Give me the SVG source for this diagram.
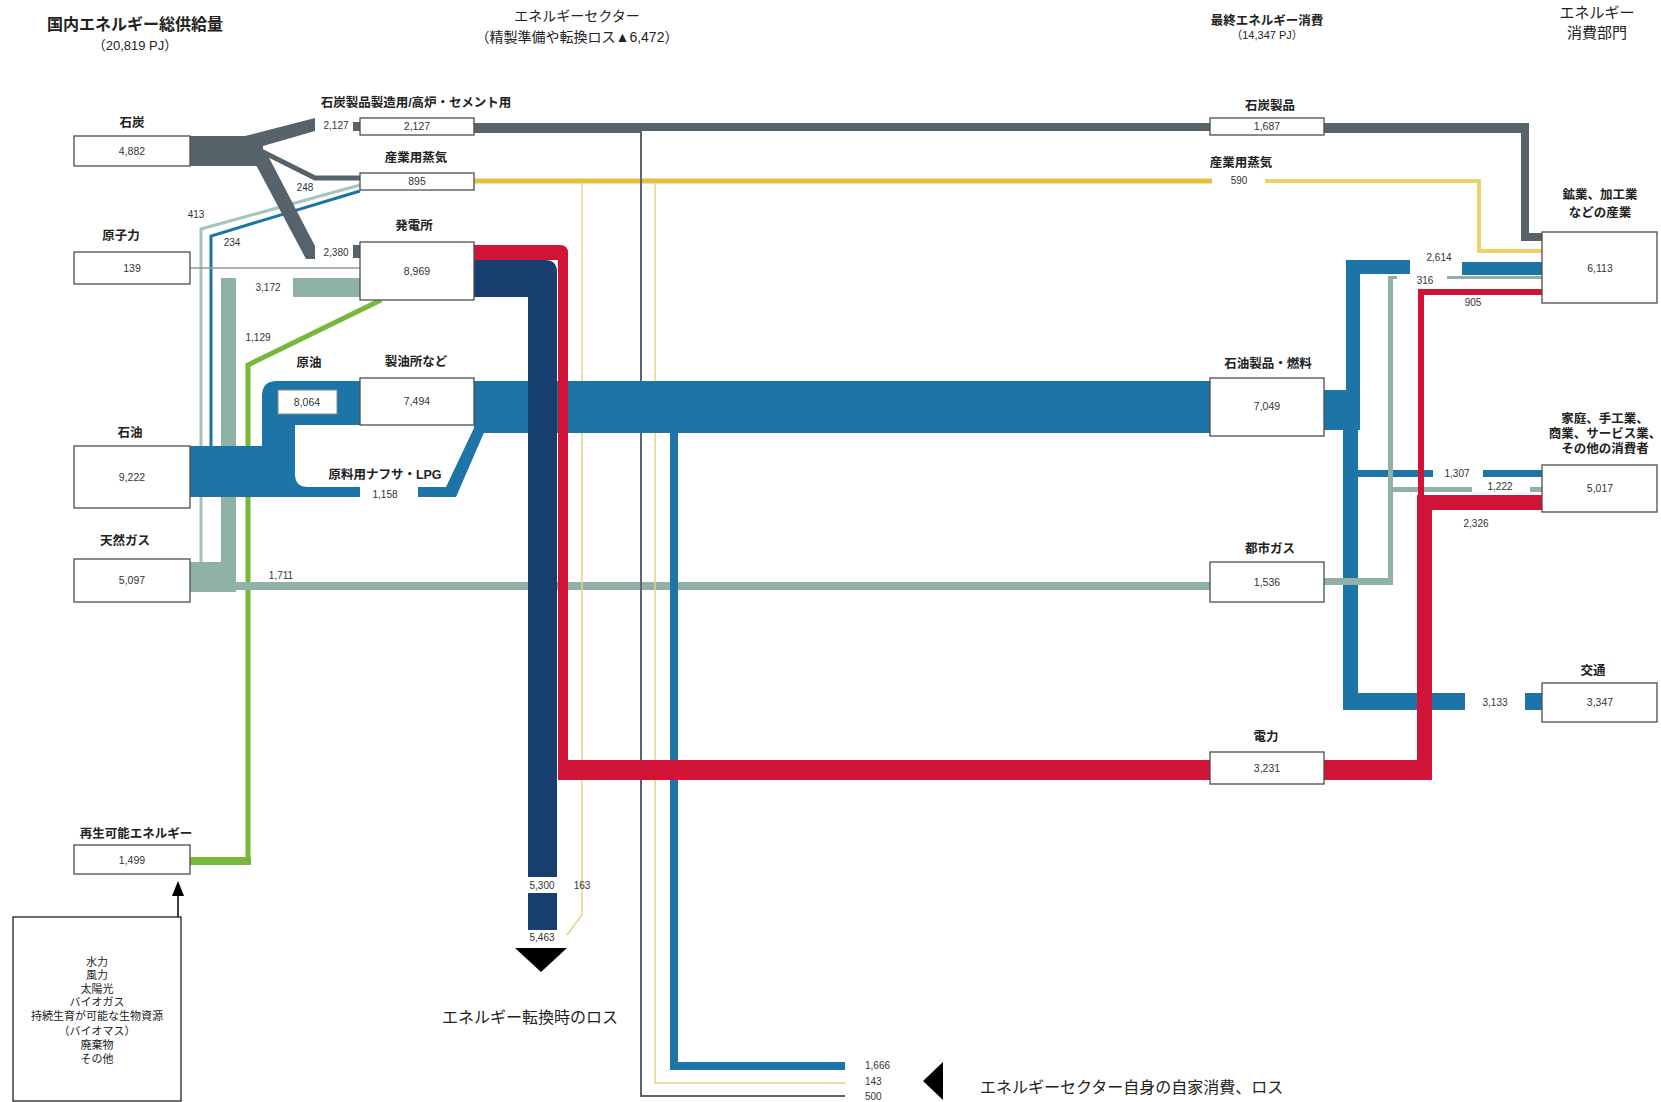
<svg xmlns="http://www.w3.org/2000/svg" width="1661" height="1102" viewBox="0 0 1661 1102">
<style>
  text { font-family: "Liberation Sans", "Noto Sans CJK JP", sans-serif; fill: #222; }
  .h { text-anchor: middle; }
  .lbl { font-size: 12.5px; font-weight: bold; text-anchor: middle; }
  .val { font-size: 10.5px; text-anchor: middle; fill: #333; }
  .num { font-size: 10px; text-anchor: middle; fill: #333; }
  .numl { font-size: 10px; fill: #333; }
  .src { font-size: 11px; text-anchor: middle; }
  .box { fill: #fff; stroke: #4d4d4d; stroke-width: 1.3; }
  .coal { fill: #56636b; }
  .oil { fill: #1d74a6; }
  .navy { fill: #163f70; }
  .elec { fill: #cf1438; }
  .gas { fill: #90b2a6; }
  .green { fill: #76b83a; }
</style>
<rect width="1661" height="1102" fill="#fff"/>

<!-- column headings -->
<g id="headings">
  <text class="h" x="135" y="30" font-size="16" font-weight="bold">国内エネルギー総供給量</text>
  <text class="h" x="135" y="50" font-size="13">（20,819 PJ）</text>
  <text class="h" x="577" y="21" font-size="14">エネルギーセクター</text>
  <text class="h" x="577" y="42" font-size="14">（精製準備や転換ロス▲6,472）</text>
  <text class="h" x="1267" y="25" font-size="12.5" font-weight="bold">最終エネルギー消費</text>
  <text class="h" x="1267" y="39" font-size="11">（14,347 PJ）</text>
  <text class="h" x="1597" y="18" font-size="15">エネルギー</text>
  <text class="h" x="1597" y="38" font-size="15">消費部門</text>
</g>

<!-- flows -->
<g id="connectors">
  <!-- renewables to power plant -->
  <polyline points="381,300 248,365 248,861" fill="none" stroke="#76b83a" stroke-width="5"/>
  <rect class="green" x="190" y="857" width="61" height="8"/>
  <!-- gas and oil into industrial steam -->
  <polyline points="360,185 201,229 201,565" fill="none" stroke="#a3c4bf" stroke-width="3"/>
  <polyline points="360,191 211,236 211,450" fill="none" stroke="#1d74a6" stroke-width="3"/>
  <!-- natural gas -->
  <rect class="gas" x="190" y="562" width="46" height="30"/>
  <rect class="gas" x="221" y="278" width="15" height="290"/>
  <rect class="gas" x="293" y="278" width="67" height="19"/>
  <rect class="gas" x="236" y="582" width="974" height="8"/>
  <!-- crude oil and naphtha -->
  <path class="oil" d="M190,446 H262 V396 Q262,381 277,381 H360 V425 H295 V474 Q295,487 308,487 H360 V497 H190 Z"/>
  <polygon class="oil" points="418,487 446,487 474,428 486,428 456,497 418,497"/>
  <rect x="278" y="390" width="59" height="24" fill="#fff" stroke="#888" stroke-width="1"/>
  <text class="val" x="307" y="406">8,064</text>
  <!-- nuclear -->
  <line x1="190" y1="268" x2="360" y2="268" stroke="#8e9a98" stroke-width="1.5"/>
  <!-- coal fan -->
  <rect class="coal" x="190" y="136" width="73" height="30"/>
  <polygon class="coal" points="245,136 315,118 315,131 263,146"/>
  <polyline points="255,148 315,178 360,178" fill="none" stroke="#56636b" stroke-width="5"/>
  <polygon class="coal" points="248,150 265,150 315,246 315,259 306,259"/>
  <rect class="coal" x="353" y="122" width="7" height="9"/>
  <rect class="coal" x="353" y="245" width="7" height="13"/>
  <!-- coal products -->
  <rect class="coal" x="474" y="123" width="167" height="10"/>
  <rect class="coal" x="641" y="123" width="569" height="8"/>
  <path class="coal" d="M1324,123 H1529 V233 H1542 V241 H1521 V133 H1324 Z"/>
  <!-- industrial steam -->
  <line x1="474" y1="181" x2="1212" y2="181" stroke="#e3c13e" stroke-width="5"/>
  <polyline points="1265,181 1479,181 1479,251 1542,251" fill="none" stroke="#ecd26a" stroke-width="4"/>
  <!-- own use and losses of the energy sector -->
  <g fill="none" stroke-width="1.5">
    <line x1="582" y1="183" x2="582" y2="381" stroke="#e6d08a"/>
    <polyline points="582,433 582,915 567,935" stroke="#e6d08a"/>
    <line x1="655" y1="183" x2="655" y2="381" stroke="#e6d08a"/>
    <polyline points="655,433 655,1083 845,1083" stroke="#e6d08a"/>
    <line x1="641" y1="131" x2="641" y2="381" stroke="#5e666c" stroke-width="2"/>
    <polyline points="641,433 641,1096 845,1096" stroke="#5e666c" stroke-width="2"/>
  </g>
  <rect class="oil" x="670" y="433" width="8" height="637"/>
  <rect class="oil" x="670" y="1062" width="175" height="8"/>
  <!-- oil products -->
  <rect class="oil" x="474" y="381" width="736" height="52"/>
  <!-- power plant outputs -->
  <path class="navy" d="M474,260 H545 Q557,260 557,272 V877 H528 V297 H474 Z"/>
  <rect class="navy" x="528" y="893" width="29" height="37"/>
  <path class="elec" d="M474,245 H560 Q568,245 568,253 V760 H1210 V780 H558 V260 H474 Z"/>
  <polygon points="515,948 567,948 541,972" fill="#000"/>
  <!-- oil products to sectors -->
  <rect class="oil" x="1324" y="390" width="36" height="40"/>
  <path class="oil" d="M1346,430 V260 H1410 V274 H1360 V430 Z"/>
  <rect class="oil" x="1462" y="262" width="80" height="13"/>
  <rect class="oil" x="1343" y="430" width="15" height="280"/>
  <rect class="oil" x="1343" y="693" width="122" height="17"/>
  <rect class="oil" x="1525" y="693" width="17" height="17"/>
  <rect class="oil" x="1358" y="470" width="75" height="7"/>
  <rect class="oil" x="1483" y="470" width="59" height="7"/>
  <!-- city gas to sectors -->
  <rect class="gas" x="1324" y="578" width="69" height="7"/>
  <rect class="gas" x="1388" y="277" width="5" height="308"/>
  <rect class="gas" x="1388" y="276" width="9" height="3"/>
  <rect class="gas" x="1447" y="276" width="95" height="3"/>
  <rect class="gas" x="1393" y="487" width="79" height="5"/>
  <rect class="gas" x="1530" y="487" width="12" height="5"/>
  <!-- electricity to sectors -->
  <path class="elec" d="M1324,760 H1417 V495 H1542 V510 H1432 V780 H1324 Z"/>
  <path class="elec" d="M1418,495 V289 H1542 V295 H1424 V495 Z"/>
  <!-- renewable sources arrow -->
  <line x1="178" y1="917" x2="178" y2="895" stroke="#000" stroke-width="1.5"/>
  <polygon points="172,896 184,896 178,881" fill="#000"/>
  <!-- left pointing marker -->
  <polygon points="943,1062 943,1100 923,1081" fill="#000"/>

  <!-- flow quantities -->
  <text class="num" x="336" y="129">2,127</text>
  <text class="num" x="305" y="191">248</text>
  <text class="num" x="196" y="218">413</text>
  <text class="num" x="232" y="246">234</text>
  <text class="num" x="336" y="256">2,380</text>
  <text class="num" x="268" y="291">3,172</text>
  <text class="num" x="258" y="341">1,129</text>
  <text class="num" x="281" y="579">1,711</text>
  <text class="num" x="385" y="498">1,158</text>
  <text class="num" x="542" y="889">5,300</text>
  <text class="num" x="582" y="889">163</text>
  <text class="num" x="542" y="941">5,463</text>
  <text class="num" x="1239" y="184">590</text>
  <text class="num" x="1439" y="261">2,614</text>
  <text class="num" x="1425" y="284">316</text>
  <text class="num" x="1473" y="306">905</text>
  <text class="num" x="1457" y="477">1,307</text>
  <text class="num" x="1500" y="490">1,222</text>
  <text class="num" x="1476" y="527">2,326</text>
  <text class="num" x="1495" y="706">3,133</text>
  <text class="numl" x="865" y="1069">1,666</text>
  <text class="numl" x="865" y="1085">143</text>
  <text class="numl" x="865" y="1100">500</text>

  <text class="lbl" x="1241" y="167">産業用蒸気</text>
  <text class="lbl" x="309" y="367">原油</text>
  <text class="lbl" x="385" y="479">原料用ナフサ・LPG</text>
  <text x="530" y="1023" font-size="16" text-anchor="middle">エネルギー転換時のロス</text>
  <text x="980" y="1093" font-size="16">エネルギーセクター自身の自家消費、ロス</text>
</g>

<!-- primary supply -->
<g id="n-coal">
  <text class="lbl" x="132" y="127">石炭</text>
  <rect class="box" x="74" y="136" width="116" height="30"/>
  <text class="val" x="132" y="155">4,882</text>
</g>
<g id="n-nuclear">
  <text class="lbl" x="121" y="240">原子力</text>
  <rect class="box" x="74" y="252" width="116" height="32"/>
  <text class="val" x="132" y="272">139</text>
</g>
<g id="n-oil">
  <text class="lbl" x="130" y="437">石油</text>
  <rect class="box" x="74" y="446" width="116" height="62"/>
  <text class="val" x="132" y="481">9,222</text>
</g>
<g id="n-gas">
  <text class="lbl" x="125" y="545">天然ガス</text>
  <rect class="box" x="74" y="559" width="116" height="43"/>
  <text class="val" x="132" y="584">5,097</text>
</g>
<g id="n-renewable">
  <text class="lbl" x="136" y="838">再生可能エネルギー</text>
  <rect class="box" x="74" y="845" width="116" height="29"/>
  <text class="val" x="132" y="864">1,499</text>
</g>
<g id="n-renewable-sources">
  <rect x="13" y="917" width="168" height="184" fill="#fff" stroke="#222" stroke-width="1.3"/>
  <text class="src" x="97" y="966">水力</text>
  <text class="src" x="97" y="979">風力</text>
  <text class="src" x="97" y="993">太陽光</text>
  <text class="src" x="97" y="1006">バイオガス</text>
  <text class="src" x="97" y="1020">持続生育が可能な生物資源</text>
  <text class="src" x="97" y="1035">（バイオマス）</text>
  <text class="src" x="97" y="1049">廃棄物</text>
  <text class="src" x="97" y="1063">その他</text>
</g>

<!-- energy sector -->
<g id="n-coal-products-mfg">
  <text class="lbl" x="416" y="107" font-size="11.5">石炭製品製造用/高炉・セメント用</text>
  <rect class="box" x="360" y="118" width="114" height="17"/>
  <text class="val" x="417" y="130">2,127</text>
</g>
<g id="n-steam">
  <text class="lbl" x="416" y="162">産業用蒸気</text>
  <rect class="box" x="360" y="173" width="114" height="17"/>
  <text class="val" x="417" y="185">895</text>
</g>
<g id="n-power">
  <text class="lbl" x="414" y="230">発電所</text>
  <rect class="box" x="360" y="242" width="114" height="58"/>
  <text class="val" x="417" y="275">8,969</text>
</g>
<g id="n-refinery">
  <text class="lbl" x="416" y="366">製油所など</text>
  <rect class="box" x="360" y="378" width="114" height="47"/>
  <text class="val" x="417" y="405">7,494</text>
</g>

<!-- final consumption -->
<g id="n-coal-products">
  <text class="lbl" x="1270" y="110">石炭製品</text>
  <rect class="box" x="1210" y="118" width="114" height="17"/>
  <text class="val" x="1267" y="130">1,687</text>
</g>
<g id="n-oil-products">
  <text class="lbl" x="1268" y="368">石油製品・燃料</text>
  <rect class="box" x="1210" y="378" width="114" height="58"/>
  <text class="val" x="1267" y="410">7,049</text>
</g>
<g id="n-city-gas">
  <text class="lbl" x="1270" y="553">都市ガス</text>
  <rect class="box" x="1210" y="562" width="114" height="40"/>
  <text class="val" x="1267" y="586">1,536</text>
</g>
<g id="n-electricity">
  <text class="lbl" x="1266" y="741">電力</text>
  <rect class="box" x="1210" y="752" width="114" height="32"/>
  <text class="val" x="1267" y="772">3,231</text>
</g>

<!-- consuming sectors -->
<g id="n-industry">
  <text class="lbl" x="1600" y="199" font-size="12">鉱業、加工業</text>
  <text class="lbl" x="1600" y="217" font-size="12">などの産業</text>
  <rect class="box" x="1542" y="232" width="115" height="71"/>
  <text class="val" x="1600" y="272">6,113</text>
</g>
<g id="n-households">
  <text class="lbl" x="1605" y="423" font-size="12">家庭、手工業、</text>
  <text class="lbl" x="1605" y="438" font-size="12">商業、サービス業、</text>
  <text class="lbl" x="1605" y="453" font-size="12">その他の消費者</text>
  <rect class="box" x="1542" y="465" width="115" height="47"/>
  <text class="val" x="1600" y="492">5,017</text>
</g>
<g id="n-transport">
  <text class="lbl" x="1593" y="675">交通</text>
  <rect class="box" x="1542" y="683" width="115" height="39"/>
  <text class="val" x="1600" y="706">3,347</text>
</g>
</svg>
